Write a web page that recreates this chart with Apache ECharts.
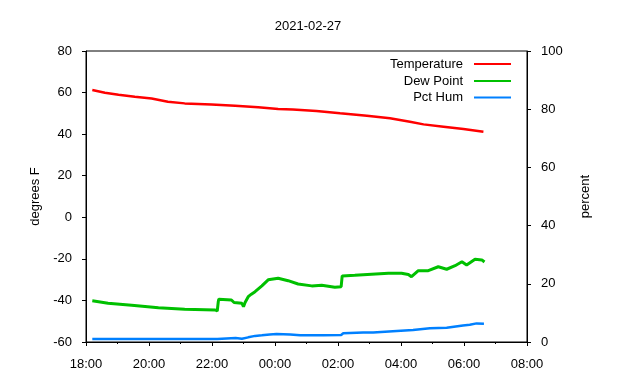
<!DOCTYPE html>
<html>
<head>
<meta charset="utf-8">
<script src="https://cdn.jsdelivr.net/npm/echarts@6/dist/echarts.min.js"></script>
<style>html,body{margin:0;padding:0;background:#fff}#c{width:640px;height:380px}</style>
</head>
<body>
<div id="c"></div>
<script>
const chartTitle = "2021-02-27";
const xTickLabels = ["18:00","20:00","22:00","00:00","02:00","04:00","06:00","08:00"];
const leftAxisName = "degrees F";
const rightAxisName = "percent";
const seriesNames = ["Temperature", "Dew Point", "Pct Hum"];

const tempTimes = ["18:12","18:36","19:02","19:33","20:05","20:36","21:08","21:59","22:44","23:28","00:06","00:34","01:19","02:04","02:55","03:39","04:17","04:43","05:21","05:59","06:37"];
const tempValues = [61.2,59.9,59.0,58.0,57.1,55.6,54.8,54.3,53.7,52.9,52.1,51.8,51.1,50.0,48.9,47.6,46.0,44.7,43.6,42.5,41.2];

const dewTimes = ["18:12","18:42","19:27","20:18","21:08","22:06","22:10","22:12","22:13","22:37","22:42","22:57","23:00","23:03","23:09","23:15","23:22","23:25","23:35","23:47","00:06","00:25","00:44","01:10","01:29","01:54","02:06","02:08","02:32","03:04","03:36","04:01","04:14","04:20","04:33","04:52","05:11","05:27","05:43","05:56","06:05","06:21","06:34","06:39"];
const dewValues = [-40.2,-41.4,-42.3,-43.5,-44.3,-44.6,-45.1,-40.5,-39.4,-39.8,-41.0,-41.4,-43.0,-41.0,-38.2,-37.0,-35.8,-35.0,-33.0,-30.1,-29.3,-30.5,-32.1,-33.0,-32.7,-33.7,-33.4,-28.2,-27.9,-27.4,-26.9,-26.9,-27.5,-28.6,-25.7,-25.7,-23.8,-25.0,-23.3,-21.4,-23.0,-20.2,-20.5,-21.5];

const humTimes = ["18:12","22:10","22:13","22:45","22:57","23:09","23:22","23:35","23:50","00:03","00:29","00:48","01:32","02:06","02:10","02:48","03:07","03:52","04:23","04:55","05:27","05:58","06:11","06:24","06:38"];
const humValues = [1.0,1.0,1.5,1.4,1.1,1.6,2.1,2.3,2.6,2.75,2.6,2.3,2.3,2.4,3.0,3.3,3.3,3.8,4.1,4.7,4.9,5.7,5.9,6.4,6.3];

function toHours(t) {
  const [h, m] = t.split(":").map(Number);
  let v = h + m / 60;
  if (h < 12) v += 24;
  return v;
}
function pairs(times, vals) { return times.map((t, i) => [toHours(t), vals[i]]); }
function fmt(v) {
  const idx = Math.round((v - 18) / 2);
  return xTickLabels[idx] !== undefined ? xTickLabels[idx] : "";
}

const colors = ["#ff0000", "#00c000", "#0080ff"];
const font = "Liberation Sans, Arial, sans-serif";
const legendTops = [52.5, 69.5, 86];

const chart = echarts.init(document.getElementById("c"), null, {renderer: "canvas"});
chart.setOption({
  animation: false,
  backgroundColor: "#fff",
  textStyle: {fontFamily: font},
  title: {
    text: chartTitle, left: 303, top: 15, textAlign: "center",
    textStyle: {fontFamily: font, fontSize: 13, fontWeight: "normal", color: "#000"}
  },
  grid: {left: 86, right: 113, top: 51, bottom: 38, show: true, borderColor: "#000", borderWidth: 1, backgroundColor: "transparent"},
  legend: seriesNames.map((n, i) => ({
    data: [{name: n, icon: "rect"}],
    right: 124, top: legendTops[i], align: "right",
    itemWidth: 37, itemHeight: 2,
    textStyle: {fontFamily: font, fontSize: 13, color: "#000", padding: [0, 6, 0, 0]},
    selectedMode: false
  })),
  xAxis: {
    type: "value", min: 18, max: 32, interval: 2,
    axisLine: {show: true, onZero: false, lineStyle: {color: "#000", width: 1}},
    axisTick: {show: true, length: 4, lineStyle: {color: "#000"}},
    minorTick: {show: true, splitNumber: 2, length: 2, lineStyle: {color: "#000"}},
    splitLine: {show: false},
    axisLabel: {formatter: fmt, color: "#000", fontSize: 13, fontFamily: font, margin: 16}
  },
  yAxis: [
    {
      type: "value", min: -60, max: 80, interval: 20,
      name: leftAxisName, nameLocation: "middle", nameGap: 42,
      nameTextStyle: {fontFamily: font, fontSize: 13, color: "#000"},
      axisLine: {show: true, onZero: false, lineStyle: {color: "#000"}},
      axisTick: {show: true, length: 4, lineStyle: {color: "#000"}},
      splitLine: {show: false},
      axisLabel: {color: "#000", fontSize: 13, fontFamily: font, margin: 14}
    },
    {
      type: "value", min: 0, max: 100, interval: 20, position: "right",
      name: rightAxisName, nameLocation: "middle", nameGap: 52,
      nameTextStyle: {fontFamily: font, fontSize: 13, color: "#000"},
      axisLine: {show: true, onZero: false, lineStyle: {color: "#000"}},
      axisTick: {show: true, length: 4, lineStyle: {color: "#000"}},
      splitLine: {show: false},
      axisLabel: {color: "#000", fontSize: 13, fontFamily: font, margin: 14}
    }
  ],
  series: [
    {name: seriesNames[0], type: "line", yAxisIndex: 0, data: pairs(tempTimes, tempValues), showSymbol: false, symbol: "none", color: colors[0], lineStyle: {width: 2.5, color: colors[0]}},
    {name: seriesNames[1], type: "line", yAxisIndex: 0, data: pairs(dewTimes, dewValues), showSymbol: false, symbol: "none", color: colors[1], lineStyle: {width: 3, color: colors[1]}},
    {name: seriesNames[2], type: "line", yAxisIndex: 1, data: pairs(humTimes, humValues), showSymbol: false, symbol: "none", color: colors[2], lineStyle: {width: 2.5, color: colors[2]}}
  ]
});
</script>
</body>
</html>
